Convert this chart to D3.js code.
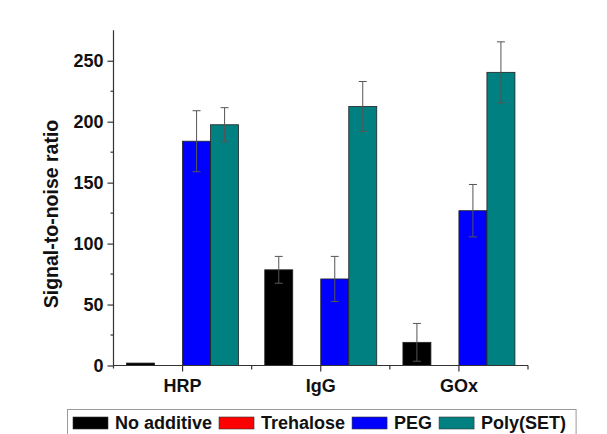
<!DOCTYPE html>
<html><head><meta charset="utf-8">
<script src="https://cdn.jsdelivr.net/npm/d3@7"></script>
<style>body{margin:0;background:#fff}svg{display:block}text{font-family:Arial,"Liberation Sans",sans-serif;font-weight:bold;fill:#111}</style>
</head><body>
<script>
const categories = ["HRP", "IgG", "GOx"];
const seriesNames = ["No additive", "Trehalose", "PEG", "Poly(SET)"];
const seriesColors = ["#000000", "#ff0000", "#0000ff", "#008080"];
const noAdditive = [2, 78.5, 19];
const trehalose = [0, 0, 0];
const peg = [184, 71, 127];
const polySET = [197.5, 212.5, 240.5];
const noAdditiveErr = [0, 11, 15.5];
const trehaloseErr = [0, 0, 0];
const pegErr = [25, 18.5, 21.5];
const polySETErr = [14, 20.5, 25];
const yTicks = [0, 50, 100, 150, 200, 250];
const yMinorTicks = [25, 75, 125, 175, 225];

const values = [noAdditive, trehalose, peg, polySET];
const errs = [noAdditiveErr, trehaloseErr, pegErr, polySETErr];

const W = 607, H = 434;
const svg = d3.select("body").append("svg").attr("width", W).attr("height", H);

const x0 = 113.5, x1 = 528, yBase = 365.5;
const y = d3.scaleLinear().domain([0, 275]).range([yBase, yBase - 275 * 1.219]);
const x = d3.scaleBand().domain(categories).range([x0, x1]).paddingInner(0).paddingOuter(0);
const xs = d3.scaleBand().domain(seriesNames).range([0, 112]);
const groupOffset = (x.bandwidth() - 112) / 2;

// bars
const g = svg.append("g");
seriesNames.forEach((s, si) => {
  g.selectAll(null).data(categories).enter().append("rect")
    .attr("x", c => x(c) + groupOffset + xs(s))
    .attr("y", (c, i) => y(values[si][i]))
    .attr("width", xs.bandwidth())
    .attr("height", (c, i) => y(0) - y(values[si][i]))
    .attr("fill", seriesColors[si])
    .attr("stroke", "#222").attr("stroke-width", 0.8);
});
// error bars
seriesNames.forEach((s, si) => {
  categories.forEach((c, i) => {
    const e = errs[si][i];
    if (!e) return;
    const cx = x(c) + groupOffset + xs(s) + xs.bandwidth() / 2;
    const v = values[si][i];
    const eg = svg.append("g").attr("stroke", "#555").attr("stroke-width", 1);
    eg.append("line").attr("x1", cx).attr("x2", cx).attr("y1", y(v + e)).attr("y2", y(v - e));
    eg.append("line").attr("x1", cx - 4).attr("x2", cx + 4).attr("y1", y(v + e)).attr("y2", y(v + e));
    eg.append("line").attr("x1", cx - 4).attr("x2", cx + 4).attr("y1", y(v - e)).attr("y2", y(v - e));
  });
});

// y axis
const yAxis = d3.axisLeft(y).tickValues(yTicks).tickSize(6).tickPadding(4);
const ya = svg.append("g").attr("transform", `translate(${x0},0)`).call(yAxis);
ya.select(".domain").attr("stroke", "#333").attr("stroke-width", 1.2).attr("d", `M0,${y(275)}V${yBase + 3}`);
ya.selectAll(".tick line").attr("stroke", "#333").attr("stroke-width", 1.2);
ya.selectAll(".tick text").style("font-size", "18px").attr("fill", "#111");
svg.append("g").selectAll("line").data(yMinorTicks).enter().append("line")
  .attr("x1", x0 - 3).attr("x2", x0).attr("y1", d => y(d)).attr("y2", d => y(d))
  .attr("stroke", "#333").attr("stroke-width", 1.2);

// x axis
const xAxis = d3.axisBottom(x).tickSize(6).tickPadding(8);
const xa = svg.append("g").attr("transform", `translate(0,${yBase})`).call(xAxis);
xa.select(".domain").attr("stroke", "#333").attr("stroke-width", 1.2).attr("d", `M${x0},0H${x1}`);
xa.selectAll(".tick line").attr("stroke", "#333").attr("stroke-width", 1.2);
xa.selectAll(".tick text").style("font-size", "18px").attr("fill", "#111");
const bounds = [1, 2, 3].map(k => x0 + k * x.step());
svg.append("g").selectAll("line").data(bounds).enter().append("line")
  .attr("x1", d => d).attr("x2", d => d).attr("y1", yBase).attr("y2", yBase + 4)
  .attr("stroke", "#333").attr("stroke-width", 1.2);

// y title
svg.append("text").attr("transform", `translate(58,214) rotate(-90)`)
  .attr("text-anchor", "middle").style("font-size", "19.5px").text("Signal-to-noise ratio");

// legend
const leg = svg.append("g");
const box = leg.append("rect").attr("x", 67.5).attr("y", 409.5).attr("height", 26)
  .attr("fill", "#fff").attr("stroke", "#999").attr("stroke-width", 1);
let lx = 73;
seriesNames.forEach((s, si) => {
  leg.append("rect").attr("x", lx).attr("y", 417).attr("width", 35).attr("height", 12)
    .attr("fill", seriesColors[si]).attr("stroke", "#333").attr("stroke-width", 0.6);
  lx += 42;
  const t = leg.append("text").attr("x", lx).attr("y", 429).style("font-size", "18px").text(s);
  lx += t.node().getComputedTextLength() + 7;
});
box.attr("width", lx + 3 - 67.5);
</script>
</body></html>
